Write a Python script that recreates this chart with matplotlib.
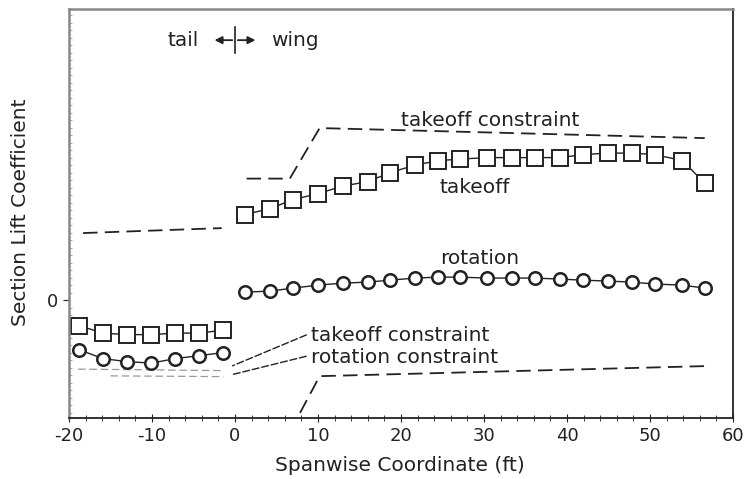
import numpy as np
import matplotlib
matplotlib.use("Agg")
import matplotlib.pyplot as plt
from matplotlib.ticker import MultipleLocator

plt.rcParams['font.family'] = ['DejaVu Sans']
plt.rcParams['axes.unicode_minus'] = False

# tail (negative span) and wing stations, ft
tail_x = [-18.8, -15.9, -13.0, -10.1, -7.2, -4.3, -1.4]
wing_x = [1.2, 4.2, 7.0, 10.0, 13.0, 16.0, 18.7, 21.7, 24.5, 27.1,
          30.4, 33.4, 36.1, 39.2, 41.9, 44.9, 47.8, 50.6, 53.9, 56.6]

# section lift coefficient
tail_takeoff = [-0.17, -0.22, -0.23, -0.23, -0.22, -0.22, -0.20]
tail_rotation = [-0.33, -0.39, -0.41, -0.42, -0.39, -0.37, -0.35]
wing_takeoff = [0.57, 0.61, 0.67, 0.71, 0.76, 0.79, 0.85, 0.90, 0.93, 0.94,
                0.95, 0.95, 0.95, 0.95, 0.97, 0.98, 0.98, 0.97, 0.93, 0.78]
wing_rotation = [0.053, 0.06, 0.08, 0.10, 0.113, 0.12, 0.133, 0.147, 0.153, 0.153,
                 0.147, 0.147, 0.147, 0.14, 0.133, 0.127, 0.12, 0.107, 0.10, 0.08]

# constraint lines
wing_to_con_x = [1.4, 6.6, 10.2, 56.6]
wing_to_con_y = [0.81, 0.81, 1.147, 1.08]
wing_rot_con_x = [1.4, 6.6, 10.2, 56.6]
wing_rot_con_y = [-0.88, -0.88, -0.507, -0.44]
tail_upper_con_x = [-18.3, -1.6]
tail_upper_con_y = [0.447, 0.48]
tail_to_con_x = [-18.9, -1.4]
tail_to_con_y = [-0.46, -0.47]
tail_rot_con_x = [-15.0, -1.4]
tail_rot_con_y = [-0.505, -0.51]

ink = "#222222"

fig = plt.figure(figsize=(7.46, 4.79), dpi=100)
ax = fig.add_axes([0.0925, 0.127, 0.890, 0.854])

# constraints
ax.plot(wing_to_con_x, wing_to_con_y, color=ink, lw=1.3, dashes=(8, 4))
ax.plot(wing_rot_con_x, wing_rot_con_y, color=ink, lw=1.3, dashes=(8, 4))
ax.plot(tail_upper_con_x, tail_upper_con_y, color=ink, lw=1.3, dashes=(8, 4))
ax.plot(tail_to_con_x, tail_to_con_y, color="#999999", lw=0.9, dashes=(6, 3))
ax.plot(tail_rot_con_x, tail_rot_con_y, color="#999999", lw=0.9, dashes=(6, 3))

# lift distributions
sq = dict(color=ink, lw=1.0, marker="s", ms=11, mfc="white", mec=ink, mew=1.4)
ci = dict(color=ink, lw=1.0, marker="o", ms=9, mfc="white", mec=ink, mew=1.8)
ax.plot(tail_x, tail_takeoff, **sq)
ax.plot(wing_x, wing_takeoff, **sq)
ax.plot(tail_x, tail_rotation, **ci)
ax.plot(wing_x, wing_rotation, **ci)

# labels in the plot
fs = 14.5
ax.text(20.0, 1.20, "takeoff constraint", fontsize=fs, color=ink, va="center")
ax.text(24.7, 0.75, "takeoff", fontsize=fs, color=ink, va="center")
ax.text(24.7, 0.28, "rotation", fontsize=fs, color=ink, va="center")
ax.text(9.2, -0.233, "takeoff constraint", fontsize=fs, color=ink, va="center")
ax.text(9.2, -0.38, "rotation constraint", fontsize=fs, color=ink, va="center")
ax.annotate("", xy=(-0.6, -0.445), xytext=(8.9, -0.225),
            arrowprops=dict(arrowstyle="-", color=ink, lw=1.0, ls=(0, (5, 2))))
ax.annotate("", xy=(-0.6, -0.50), xytext=(8.9, -0.37),
            arrowprops=dict(arrowstyle="-", color=ink, lw=1.0, ls=(0, (5, 2))))

# tail <-> wing marker
ax.text(-4.4, 1.733, "tail", fontsize=fs, color=ink, va="center", ha="right")
ax.text(4.3, 1.733, "wing", fontsize=fs, color=ink, va="center", ha="left")
ax.annotate("", xy=(-2.8, 1.733), xytext=(0, 1.733),
            arrowprops=dict(arrowstyle="-|>", color=ink, lw=1.3, mutation_scale=11))
ax.annotate("", xy=(2.8, 1.733), xytext=(0, 1.733),
            arrowprops=dict(arrowstyle="-|>", color=ink, lw=1.3, mutation_scale=11))
ax.plot([0, 0], [1.65, 1.82], color=ink, lw=1.2)

ax.set_xlim(-20, 60)
ax.set_ylim(-0.787, 1.94)
ax.set_xticks([-20, -10, 0, 10, 20, 30, 40, 50, 60])
ax.xaxis.set_minor_locator(MultipleLocator(2))
ax.set_yticks([0])
ax.yaxis.set_minor_locator(MultipleLocator(0.05))
ax.tick_params(axis="x", which="major", direction="inout", length=6, labelsize=13, colors=ink, pad=3)
ax.tick_params(axis="x", which="minor", direction="inout", length=4, color=ink)
ax.tick_params(axis="y", which="major", direction="out", length=4, labelsize=13, colors=ink)
ax.tick_params(axis="y", which="minor", direction="in", length=2, color="#999999")

for side in ["left", "top"]:
    ax.spines[side].set_color("#888888")
    ax.spines[side].set_linewidth(1.8)
for side in ["right", "bottom"]:
    ax.spines[side].set_color(ink)
    ax.spines[side].set_linewidth(1.3)

ax.set_xlabel("Spanwise Coordinate (ft)", fontsize=14.5, color=ink)
ax.set_ylabel("Section Lift Coefficient", fontsize=14.5, color=ink)
ax.xaxis.set_label_coords(0.498, -0.092)
ax.yaxis.set_label_coords(-0.058, 0.504)

fig.savefig("out.png", dpi=100)
